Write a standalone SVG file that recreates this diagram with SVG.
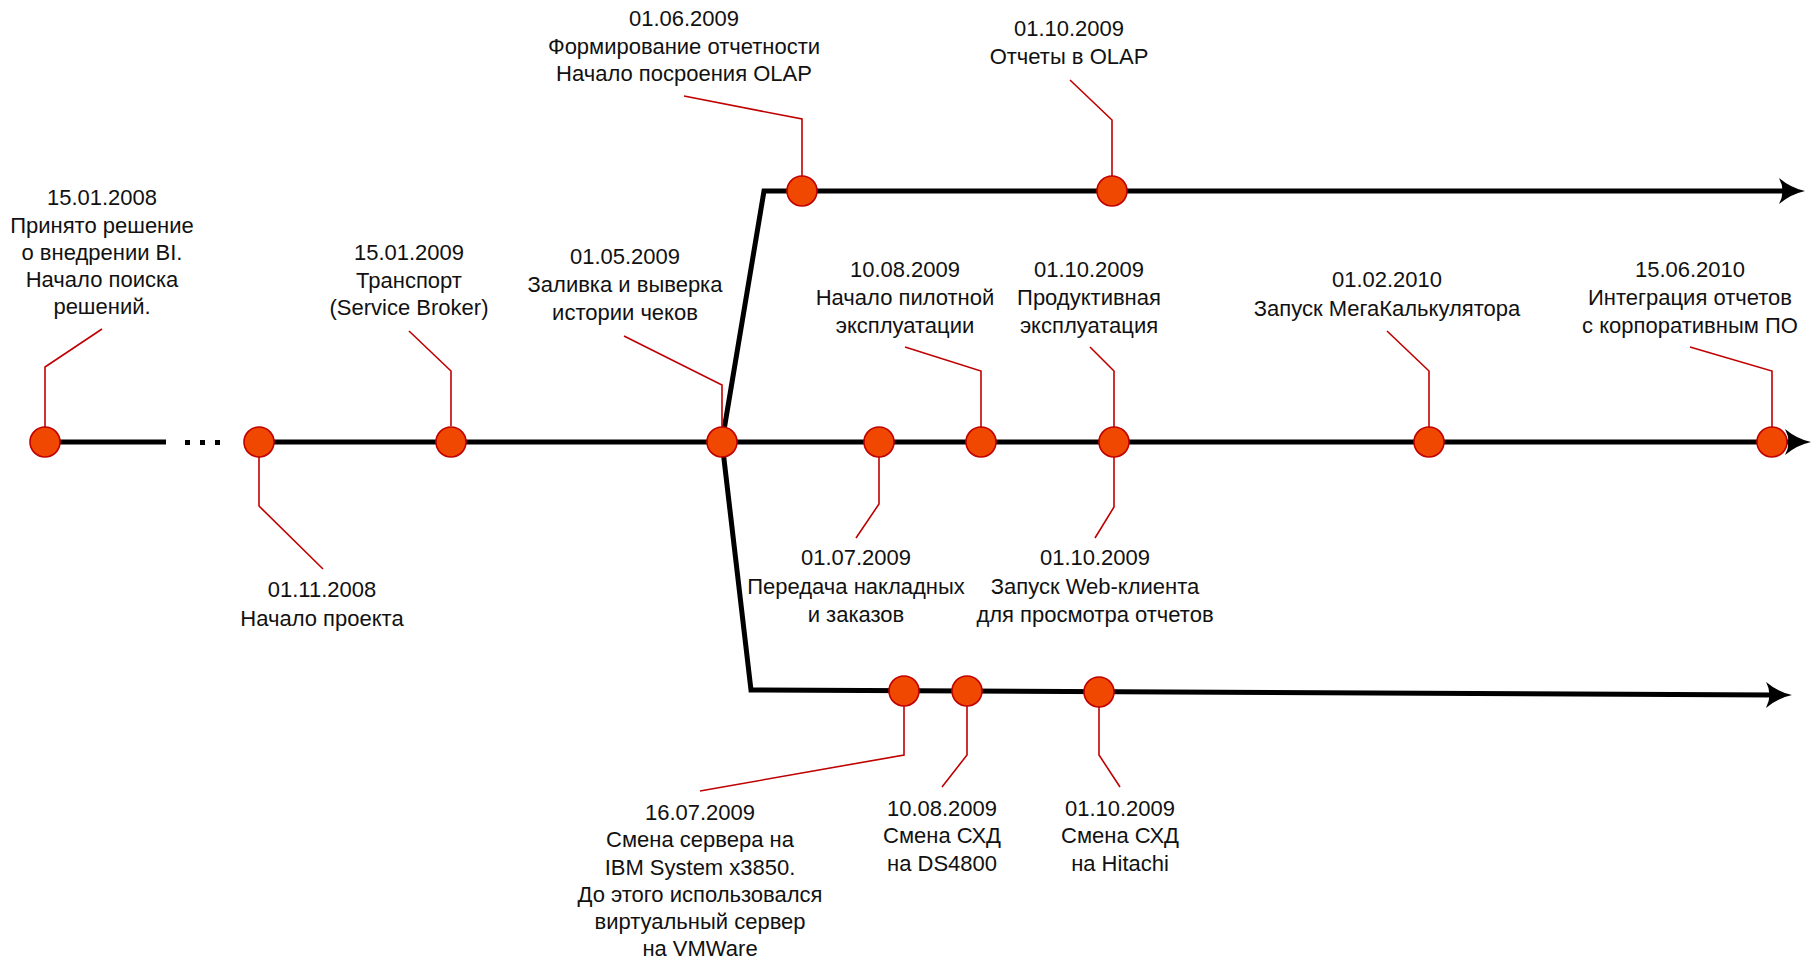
<svg xmlns="http://www.w3.org/2000/svg" width="1817" height="960" viewBox="0 0 1817 960">
<defs>
<style>
.t{font-family:"Liberation Sans",Arial,sans-serif;font-size:22px;fill:#111;text-anchor:middle}
.ax{fill:none;stroke:#000;stroke-width:5}
.co{fill:none;stroke:#c00000;stroke-width:1.6}
.dot{fill:#f04800;stroke:#c00000;stroke-width:1.6}
</style>
<marker id="arr" markerUnits="userSpaceOnUse" viewBox="-8 -15 28 30" refX="0" refY="0" markerWidth="28" markerHeight="30" orient="auto">
<path d="M19,0 Q5,-3 -7,-13 Q0,0 -7,13 Q5,3 19,0 Z" fill="#000"/>
</marker>
</defs>
<rect width="1817" height="960" fill="#fff"/>
<g id="connectors">
<path class="ax" d="M45,442 H166"/>
<rect x="185" y="440" width="5" height="5" fill="#000"/>
<rect x="200" y="440" width="5" height="5" fill="#000"/>
<rect x="215" y="440" width="5" height="5" fill="#000"/>
<path class="ax" d="M259,442 H1792" marker-end="url(#arr)"/>
<path class="ax" d="M722,442 L764,191 H1786" marker-end="url(#arr)"/>
<path class="ax" d="M722,442 L751,690 L1773,695" marker-end="url(#arr)"/>
<path class="co" d="M102,329 L45,367 V427"/>
<path class="co" d="M259,457 V506 L323,569"/>
<path class="co" d="M409,331 L451,371 V426"/>
<path class="co" d="M624,336 L722,385 V427"/>
<path class="co" d="M684,96 L802,119 V176"/>
<path class="co" d="M1070,80 L1112,120 V176"/>
<path class="co" d="M879,457 V504 L856,538"/>
<path class="co" d="M905,347 L981,371 V427"/>
<path class="co" d="M1090,347 L1114,371 V427"/>
<path class="co" d="M1114,457 V507 L1095,538"/>
<path class="co" d="M1387,331 L1429,371 V427"/>
<path class="co" d="M1690,347 L1772,371 V427"/>
<path class="co" d="M904,706 V755 L700,791"/>
<path class="co" d="M967,706 V755 L942,787"/>
<path class="co" d="M1099,707 V755 L1120,787"/>
</g>
<g id="n1"><circle class="dot" cx="45" cy="442" r="15"/>
<text class="t"><tspan x="102" y="205">15.01.2008</tspan><tspan x="102" y="233">Принято решение</tspan><tspan x="102" y="260">о внедрении BI.</tspan><tspan x="102" y="287">Начало поиска</tspan><tspan x="102" y="314">решений.</tspan></text></g>
<g id="n2"><circle class="dot" cx="259" cy="442" r="15"/>
<text class="t"><tspan x="322" y="597">01.11.2008</tspan><tspan x="322" y="626">Начало проекта</tspan></text></g>
<g id="n3"><circle class="dot" cx="451" cy="442" r="15"/>
<text class="t"><tspan x="409" y="260">15.01.2009</tspan><tspan x="409" y="288">Транспорт</tspan><tspan x="409" y="315">(Service Broker)</tspan></text></g>
<g id="n4"><circle class="dot" cx="722" cy="442" r="15"/>
<text class="t"><tspan x="625" y="264">01.05.2009</tspan><tspan x="625" y="292">Заливка и выверка</tspan><tspan x="625" y="320">истории чеков</tspan></text></g>
<g id="n5"><circle class="dot" cx="802" cy="191" r="15"/>
<text class="t"><tspan x="684" y="26">01.06.2009</tspan><tspan x="684" y="54">Формирование отчетности</tspan><tspan x="684" y="81">Начало посроения OLAP</tspan></text></g>
<g id="n6"><circle class="dot" cx="1112" cy="191" r="15"/>
<text class="t"><tspan x="1069" y="36">01.10.2009</tspan><tspan x="1069" y="64">Отчеты в OLAP</tspan></text></g>
<g id="n7"><circle class="dot" cx="879" cy="442" r="15"/>
<text class="t"><tspan x="856" y="565">01.07.2009</tspan><tspan x="856" y="594">Передача накладных</tspan><tspan x="856" y="622">и заказов</tspan></text></g>
<g id="n8"><circle class="dot" cx="981" cy="442" r="15"/>
<text class="t"><tspan x="905" y="277">10.08.2009</tspan><tspan x="905" y="305">Начало пилотной</tspan><tspan x="905" y="333">эксплуатации</tspan></text></g>
<g id="n9"><circle class="dot" cx="1114" cy="442" r="15"/>
<text class="t"><tspan x="1089" y="277">01.10.2009</tspan><tspan x="1089" y="305">Продуктивная</tspan><tspan x="1089" y="333">эксплуатация</tspan></text>
<text class="t"><tspan x="1095" y="565">01.10.2009</tspan><tspan x="1095" y="594">Запуск Web-клиента</tspan><tspan x="1095" y="622">для просмотра отчетов</tspan></text></g>
<g id="n10"><circle class="dot" cx="1429" cy="442" r="15"/>
<text class="t"><tspan x="1387" y="287">01.02.2010</tspan><tspan x="1387" y="316">Запуск МегаКалькулятора</tspan></text></g>
<g id="n11"><circle class="dot" cx="1772" cy="442" r="15"/>
<text class="t"><tspan x="1690" y="277">15.06.2010</tspan><tspan x="1690" y="305">Интеграция отчетов</tspan><tspan x="1690" y="333">с корпоративным ПО</tspan></text></g>
<g id="n12"><circle class="dot" cx="904" cy="691" r="15"/>
<text class="t"><tspan x="700" y="820">16.07.2009</tspan><tspan x="700" y="847">Смена сервера на</tspan><tspan x="700" y="875">IBM System x3850.</tspan><tspan x="700" y="902">До этого использовался</tspan><tspan x="700" y="929">виртуальный сервер</tspan><tspan x="700" y="956">на VMWare</tspan></text></g>
<g id="n13"><circle class="dot" cx="967" cy="691" r="15"/>
<text class="t"><tspan x="942" y="816">10.08.2009</tspan><tspan x="942" y="843">Смена СХД</tspan><tspan x="942" y="871">на DS4800</tspan></text></g>
<g id="n14"><circle class="dot" cx="1099" cy="692" r="15"/>
<text class="t"><tspan x="1120" y="816">01.10.2009</tspan><tspan x="1120" y="843">Смена СХД</tspan><tspan x="1120" y="871">на Hitachi</tspan></text></g>
</svg>
